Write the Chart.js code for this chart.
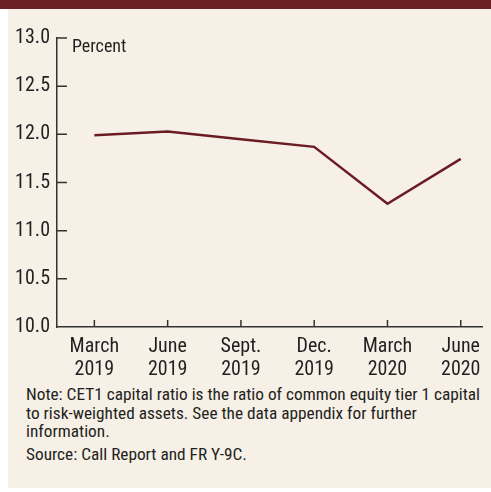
<!DOCTYPE html>
<html>
<head>
<meta charset="utf-8">
<script src="https://cdn.jsdelivr.net/npm/chart.js@4.4.0/dist/chart.umd.min.js"></script>
<style>
  body { margin: 0; background: #fff; width: 491px; height: 492px; overflow: hidden; position: relative; }
  #bar { position: absolute; left: 0; top: 0; width: 491px; height: 9px; background: #6d1f26; }
  #panel { position: absolute; left: 8px; top: 9px; width: 483px; height: 479px; background: #f6f0e7; }
  #chart { position: absolute; left: 0; top: 0; }
  .txt { position: absolute; font-family: "Roboto Condensed", "Liberation Sans", sans-serif; color: #231f20; white-space: nowrap; }
  #unit { left: 72px; top: 35px; font-size: 18px; }
  #note { left: 26px; top: 385px; font-size: 17.3px; line-height: 18.5px; }
  #source { left: 26px; top: 445px; font-size: 17.3px; line-height: 18.5px; }
</style>
</head>
<body>
<div id="bar"></div>
<div id="panel"></div>
<canvas id="chart" width="491" height="380"></canvas>
<div class="txt" id="unit">Percent</div>
<div class="txt" id="note">Note: CET1 capital ratio is the ratio of common equity tier 1 capital<br>to risk-weighted assets. See the data appendix for further<br>information.</div>
<div class="txt" id="source">Source: Call Report and FR Y-9C.</div>
<script>
const quarters = [['March', '2019'], ['June', '2019'], ['Sept.', '2019'], ['Dec.', '2019'], ['March', '2020'], ['June', '2020']];
const cet1Ratio = [11.99, 12.03, 11.95, 11.87, 11.28, 11.745];
const yTicks = [10.0, 10.5, 11.0, 11.5, 12.0, 12.5, 13.0];

const axisColor = '#333';
const fontName = '"Roboto Condensed", "Liberation Sans", sans-serif';

// tick marks pointing into the plot, like the original
const innerTicks = {
  id: 'innerTicks',
  afterDraw(chart) {
    const { ctx, chartArea, scales } = chart;
    ctx.save();
    ctx.strokeStyle = axisColor;
    ctx.lineWidth = 1.5;
    ctx.beginPath();
    yTicks.forEach(v => {
      if (v === yTicks[0]) return;
      const y = scales.y.getPixelForValue(v);
      ctx.moveTo(chartArea.left, y);
      ctx.lineTo(chartArea.left + 10, y);
    });
    quarters.forEach((q, i) => {
      const x = scales.x.getPixelForValue(i);
      ctx.moveTo(x, chartArea.bottom);
      ctx.lineTo(x, chartArea.bottom - 7);
    });
    ctx.stroke();
    ctx.restore();
  }
};

new Chart(document.getElementById('chart'), {
  type: 'line',
  data: {
    datasets: [{
      data: cet1Ratio.map((v, i) => ({ x: i, y: v })),
      borderColor: '#6b1c23',
      borderWidth: 2.5,
      pointRadius: 0,
      tension: 0
    }]
  },
  options: {
    responsive: false,
    animation: false,
    devicePixelRatio: 1,
    layout: { padding: { top: 38, right: 9, left: 0, bottom: 0 } },
    plugins: { legend: { display: false }, tooltip: { enabled: false } },
    scales: {
      x: {
        type: 'linear',
        min: -0.51,
        max: 5.29,
        afterBuildTicks: s => { s.ticks = quarters.map((q, i) => ({ value: i })); },
        afterFit: s => { s.height = 53; },
        grid: { display: false, drawTicks: false },
        border: { display: true, color: axisColor, width: 1.5 },
        ticks: {
          autoSkip: false,
          maxRotation: 0,
          padding: 8,
          color: '#231f20',
          font: { family: fontName, size: 20, lineHeight: 1.15 },
          callback: v => quarters[v]
        }
      },
      y: {
        min: 10,
        max: 13,
        afterBuildTicks: s => { s.ticks = yTicks.map(v => ({ value: v })); },
        afterFit: s => { s.width = 57; },
        grid: { display: false, drawTicks: false },
        border: { display: true, color: axisColor, width: 1.5 },
        ticks: {
          padding: 7,
          color: '#231f20',
          font: { family: fontName, size: 20 },
          callback: v => v.toFixed(1)
        }
      }
    }
  },
  plugins: [innerTicks]
});
</script>
</body>
</html>
